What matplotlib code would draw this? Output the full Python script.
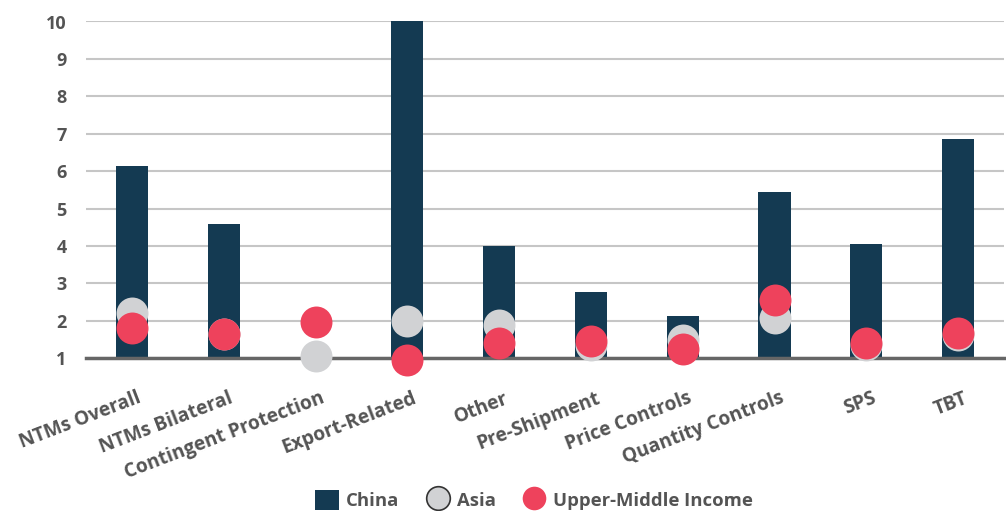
import matplotlib
matplotlib.use("Agg")
import matplotlib.pyplot as plt
from matplotlib.patches import Patch
from matplotlib.lines import Line2D
import numpy as np

categories = ["NTMs Overall", "NTMs Bilateral", "Contingent Protection", "Export-Related",
              "Other", "Pre-Shipment", "Price Controls", "Quantity Controls", "SPS", "TBT"]
china = [6.15, 4.58, None, 10.0, 4.0, 2.78, 2.14, 5.45, 4.05, 6.85]
asia = [2.2, 1.65, 1.05, 2.0, 1.9, 1.36, 1.5, 2.08, 1.35, 1.62]
upper_middle = [1.8, 1.65, 1.97, 0.95, 1.42, 1.45, 1.25, 2.55, 1.42, 1.68]
yticks = [1, 2, 3, 4, 5, 6, 7, 8, 9, 10]

NAVY = "#143A52"
GRAY = "#D1D2D4"
RED = "#EE425C"
TXT = "#545454"

plt.rcParams['font.family'] = ['Open Sans', 'DejaVu Sans']
plt.rcParams['font.weight'] = 'bold'

W, H = 1006, 511
fig = plt.figure(figsize=(W / 100, H / 100), dpi=100)
ax_left = 86 / W
ax_right = 1004 / W
ax_bottom = (H - 358.3) / H
ax_top = (H - 21.5) / H
ax = fig.add_axes([ax_left, ax_bottom, ax_right - ax_left, ax_top - ax_bottom])

x = np.arange(len(categories))
base = 1.0
for i, v in enumerate(china):
    if v is not None:
        ax.bar(x[i], v - base, bottom=base, width=0.35, color=NAVY, zorder=2)

ms = 23
ax.plot(x, asia, linestyle='none', marker='o', markersize=ms, color=GRAY,
        markeredgewidth=0, zorder=4, clip_on=False)
ax.plot(x, upper_middle, linestyle='none', marker='o', markersize=ms, color=RED,
        markeredgewidth=0, zorder=5, clip_on=False)

ax.set_xlim(-0.5, len(categories) - 0.5)
ax.set_ylim(1, 10)
ax.set_yticks(yticks)
ax.set_yticklabels([str(t) for t in yticks], fontsize=13, fontweight='bold', color=TXT)
ax.tick_params(axis='y', length=0, pad=14)
ax.tick_params(axis='x', length=0)
ax.yaxis.grid(True, color="#C6C6C6", linewidth=1.5, zorder=0)
ax.set_axisbelow(True)
for s in ['top', 'right', 'left']:
    ax.spines[s].set_visible(False)
ax.spines['bottom'].set_color("#666666")
ax.spines['bottom'].set_linewidth(2.5)
ax.spines['bottom'].set_zorder(3)

ax.set_xticks(x)
ax.set_xticklabels([])
# rotated category labels, anchored at their upper-right corner
for i, lab in enumerate(categories):
    ax.annotate(lab, xy=(x[i], 1), xycoords='data',
                xytext=(5, -30), textcoords='offset pixels',
                ha='right', va='top', rotation=21, rotation_mode='anchor',
                fontsize=13.8, fontweight='bold', color=TXT, annotation_clip=False)

handles = [
    Patch(facecolor=NAVY, edgecolor='none'),
    Line2D([], [], linestyle='none', marker='o', markersize=17, markerfacecolor=GRAY,
           markeredgecolor="#333333", markeredgewidth=1.2),
    Line2D([], [], linestyle='none', marker='o', markersize=17, markerfacecolor=RED,
           markeredgewidth=0),
]
leg = fig.legend(handles, ["China", "Asia", "Upper-Middle Income"], loc='center',
                 bbox_to_anchor=(534 / W, (H - 500) / H), ncol=3, frameon=False,
                 prop={'size': 13.3, 'weight': 'bold'}, handlelength=1.3, handleheight=1.3,
                 columnspacing=1.4, handletextpad=0.4, borderaxespad=0)
for t in leg.get_texts():
    t.set_color(TXT)

fig.savefig("out.png", dpi=100)
